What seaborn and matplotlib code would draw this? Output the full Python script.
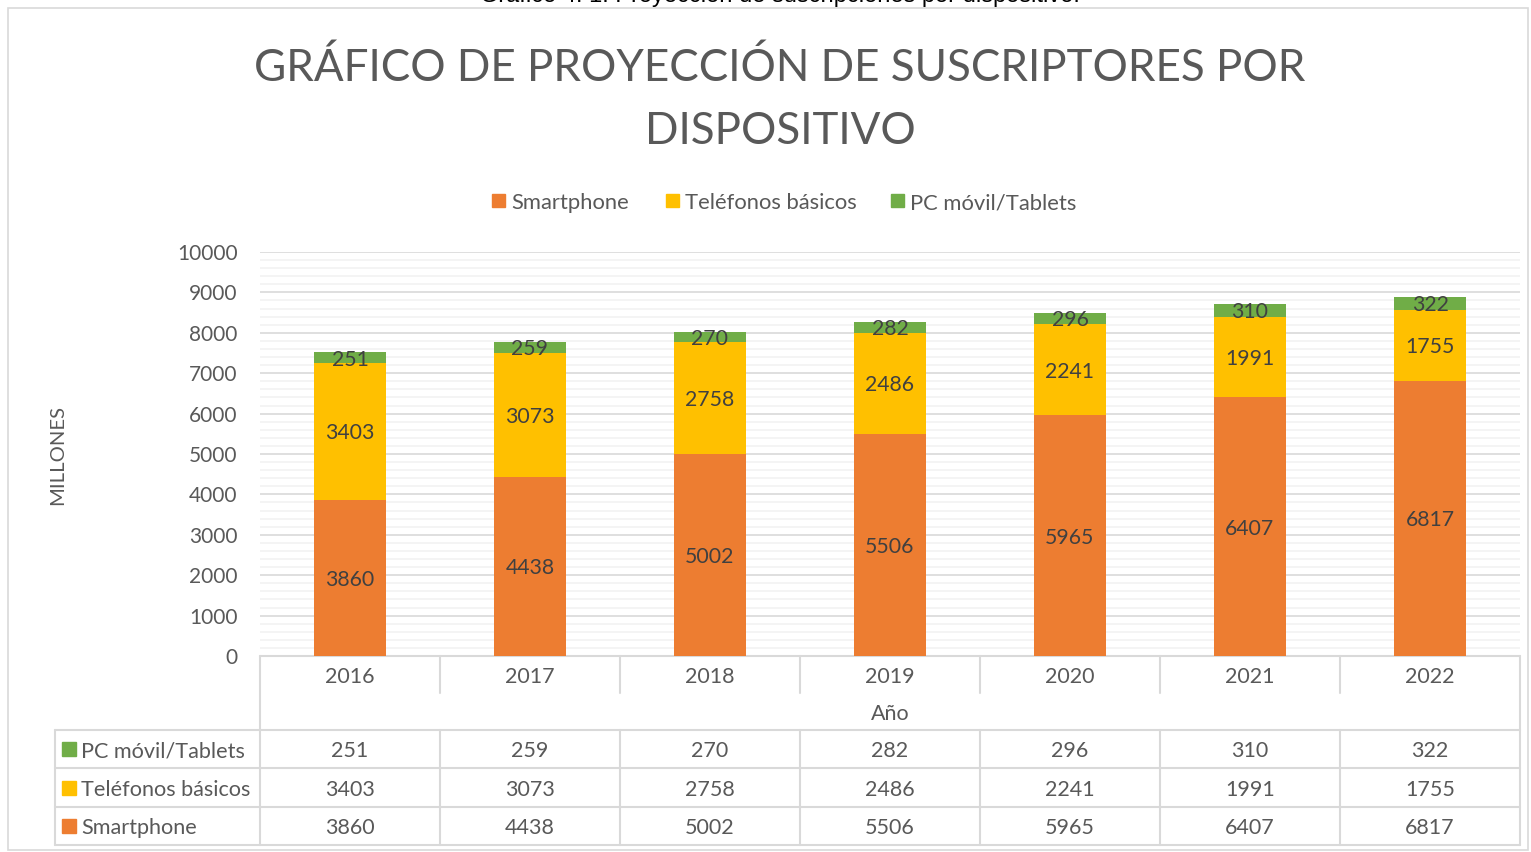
import matplotlib
matplotlib.use('Agg')
import matplotlib.pyplot as plt
import matplotlib.transforms as mtransforms
from matplotlib.patches import Rectangle
from matplotlib.ticker import MultipleLocator
import seaborn as sns

# ------------------------------------------------------------------
# DATA
# ------------------------------------------------------------------
years = ['2016', '2017', '2018', '2019', '2020', '2021', '2022']
smartphone = [3860, 4438, 5002, 5506, 5965, 6407, 6817]
basicos = [3403, 3073, 2758, 2486, 2241, 1991, 1755]
tablets = [251, 259, 270, 282, 296, 310, 322]
series_names = ['Smartphone', 'Teléfonos básicos', 'PC móvil/Tablets']

C_ORANGE = '#ED7D31'
C_YELLOW = '#FFC000'
C_GREEN = '#70AD47'
TXT = '#595959'
LBL = '#404040'
GRID = '#D9D9D9'

sns.set_style('white')
plt.rcParams['font.family'] = ['Lato', 'DejaVu Sans']

W, H = 1531, 852
fig = plt.figure(figsize=(W / 100, H / 100), dpi=100)

def fy(px):
    return 1 - px / H

ax = fig.add_axes([260 / W, fy(656), (1520 - 260) / W, (656 - 252) / H])

# stacked bars: draw cumulative totals from top to bottom
lvl2 = [s + b for s, b in zip(smartphone, basicos)]
lvl3 = [t + l for t, l in zip(lvl2, tablets)]
for vals, col in [(lvl3, C_GREEN), (lvl2, C_YELLOW), (smartphone, C_ORANGE)]:
    sns.barplot(x=years, y=vals, color=col, saturation=1, width=0.405, ax=ax,
                zorder=3, linewidth=0)

ax.set_xlim(-0.5, 6.5)
ax.set_ylim(0, 10000)
ax.yaxis.set_major_locator(MultipleLocator(1000))
ax.yaxis.set_minor_locator(MultipleLocator(200))
ax.grid(axis='y', which='major', color=GRID, lw=1.2, zorder=0)
ax.grid(axis='y', which='minor', color='#F2F2F2', lw=1.2, zorder=0)
ax.set_axisbelow(True)
for sp in ax.spines.values():
    sp.set_visible(False)
ax.tick_params(axis='y', which='both', length=0, pad=16, labelsize=15, labelcolor=TXT)
ax.tick_params(axis='x', length=0, labelbottom=False)
ax.set_xlabel('')
ax.set_ylabel('')

# data labels
for i in range(len(years)):
    ax.text(i, smartphone[i] / 2, str(smartphone[i]), ha='center', va='center_baseline',
            fontsize=15.3, color=LBL, zorder=5)
    ax.text(i, smartphone[i] + basicos[i] / 2, str(basicos[i]), ha='center', va='center_baseline',
            fontsize=15.3, color=LBL, zorder=5)
    ax.text(i, lvl2[i] + tablets[i] / 2, str(tablets[i]), ha='center', va='center_baseline',
            fontsize=15.3, color=LBL, zorder=5)

# ------------------------------------------------------------------
# data table under the axis
# ------------------------------------------------------------------
tr = mtransforms.blended_transform_factory(ax.transData, fig.transFigure)
xl = -0.5 - (260 - 55) / 180.0  # left edge of the legend column
n = len(years)
lkw = dict(color=GRID, lw=1.5, transform=tr, clip_on=False, zorder=1)

ax.plot([-0.5, n - 0.5], [fy(656), fy(656)], **lkw)
for y in [730, 768, 807, 845]:
    ax.plot([xl, n - 0.5], [fy(y), fy(y)], **lkw)
for b in range(n + 1):
    x = b - 0.5
    if b == 0 or b == n:
        ax.plot([x, x], [fy(656), fy(845)], **lkw)
    else:
        ax.plot([x, x], [fy(656), fy(693)], **lkw)
        ax.plot([x, x], [fy(730), fy(845)], **lkw)
ax.plot([xl, xl], [fy(730), fy(845)], **lkw)

for i, yr in enumerate(years):
    ax.text(i, fy(675), yr, transform=tr, ha='center', va='center_baseline', fontsize=15.5, color=TXT)
ax.text((n - 1) / 2, fy(712), 'Año', transform=tr, ha='center', va='center_baseline',
        fontsize=15.5, color=TXT)

rows = [(series_names[2], tablets, C_GREEN, 749),
        (series_names[1], basicos, C_YELLOW, 788),
        (series_names[0], smartphone, C_ORANGE, 826)]
for name, vals, col, yc in rows:
    fig.add_artist(Rectangle((62 / W, fy(yc + 7)), 14 / W, 14 / H, color=col,
                             transform=fig.transFigure))
    fig.text(81 / W, fy(yc), name, ha='left', va='center_baseline', fontsize=15.6, color=TXT)
    for i, v in enumerate(vals):
        ax.text(i, fy(yc), str(v), transform=tr, ha='center', va='center_baseline',
                fontsize=15.5, color=TXT)

# ------------------------------------------------------------------
# title, legend, axis title, frame
# ------------------------------------------------------------------
fig.text(780 / W, fy(64), 'GRÁFICO DE PROYECCIÓN DE SUSCRIPTORES POR', ha='center',
         va='center_baseline', fontsize=31.7, color=TXT)
fig.text(780 / W, fy(128), 'DISPOSITIVO', ha='center', va='center_baseline', fontsize=31.7,
         color=TXT)

fig.text(58 / W, fy(455), 'MILLONES', rotation=90, ha='center', va='center', fontsize=14.6, color=TXT)

leg_items = [(series_names[0], C_ORANGE, 492), (series_names[1], C_YELLOW, 666), (series_names[2], C_GREEN, 891)]
for name, col, x0 in leg_items:
    fig.add_artist(Rectangle((x0 / W, fy(207)), 13 / W, 13 / H, color=col, transform=fig.transFigure))
    fig.text((x0 + 19) / W, fy(201), name, ha='left', va='center_baseline', fontsize=15.8, color=TXT)

fig.add_artist(Rectangle((8 / W, fy(850)), (1528 - 8) / W, (850 - 8) / H, fill=False,
                         edgecolor='#D9D9D9', lw=1.2, transform=fig.transFigure))

# caption of the document, cut at the top edge
fig.text(780 / W, fy(2), 'Gráfico 4. 1. Proyección de suscripciones por dispositivo.',
         ha='center', va='baseline', fontsize=17, color='black', family='Liberation Sans')

fig.savefig('out.png', dpi=100)
